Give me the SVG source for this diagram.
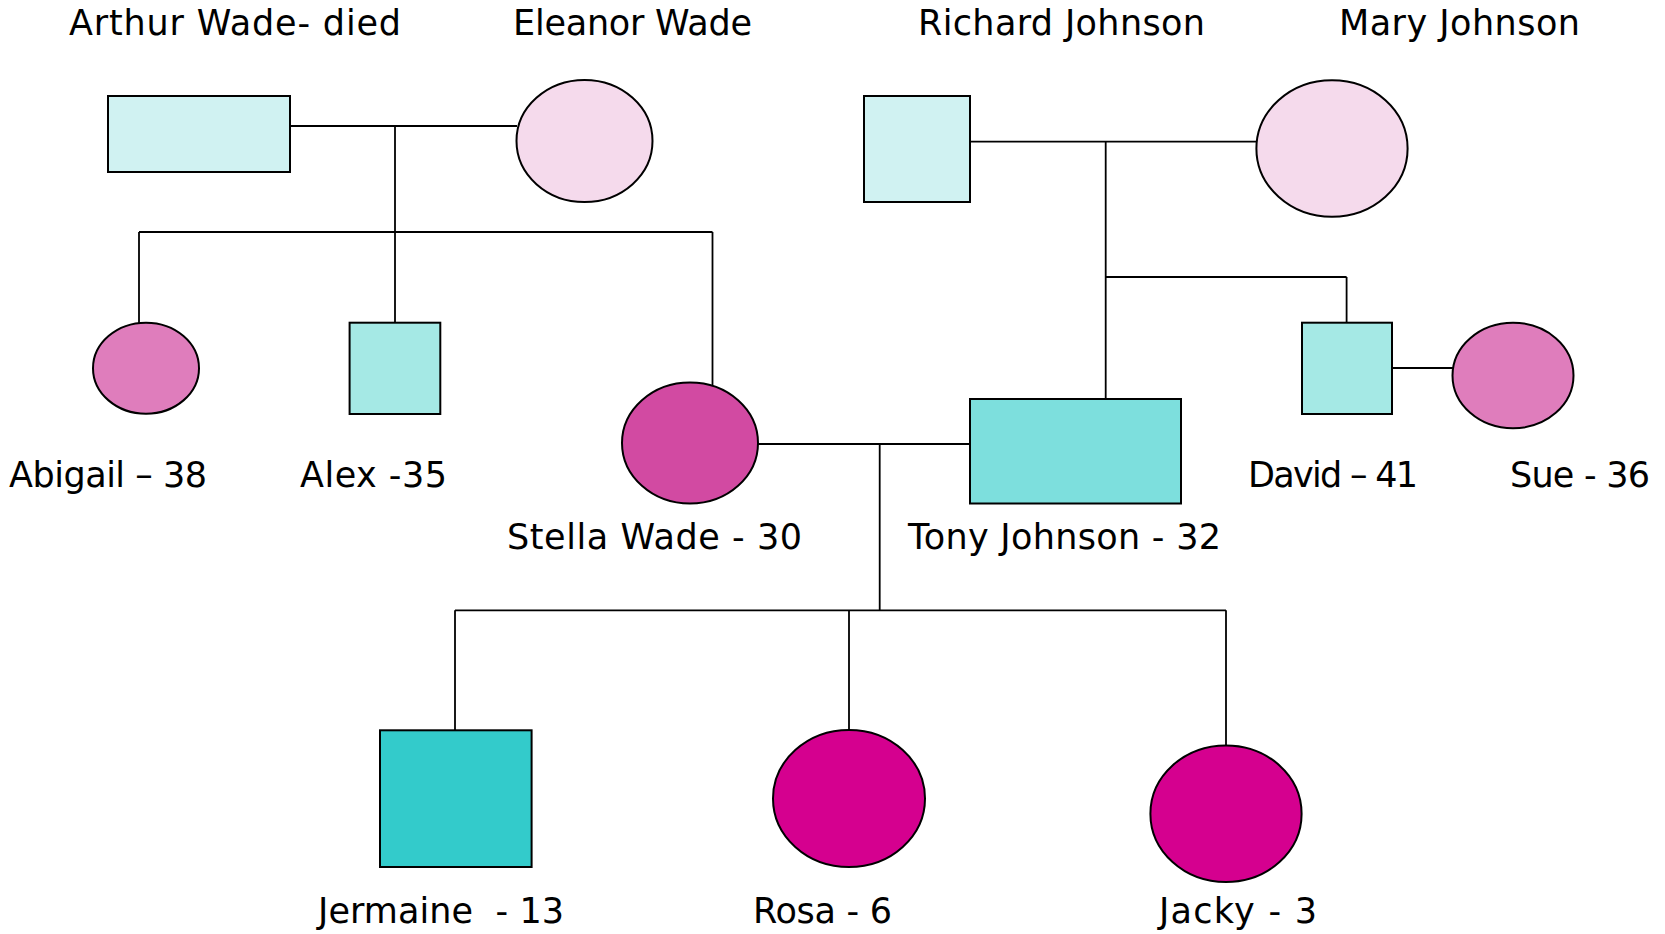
<svg xmlns="http://www.w3.org/2000/svg" width="1665" height="934" viewBox="0 0 1665 934">
<style>
  .lbl { font-family: "DejaVu Sans", "Liberation Sans", sans-serif; font-size: 35px; fill: #000; }
  .shape { stroke: #000; stroke-width: 2; }
  .conn line { stroke: #000; stroke-width: 1.8; }
</style>
<rect width="1665" height="934" fill="#ffffff"/>
<g id="connectors" class="conn">
  <line x1="290" y1="126" x2="517" y2="126"/>
  <line x1="395" y1="126" x2="395" y2="232"/>
  <line x1="139" y1="232" x2="712.5" y2="232"/>
  <line x1="139" y1="232" x2="139" y2="324"/>
  <line x1="395" y1="232" x2="395" y2="323"/>
  <line x1="712.5" y1="232" x2="712.5" y2="385"/>
  <line x1="970" y1="141.7" x2="1257" y2="141.7"/>
  <line x1="1105.7" y1="141.7" x2="1105.7" y2="399"/>
  <line x1="1105.7" y1="277" x2="1346.6" y2="277"/>
  <line x1="1346.6" y1="277" x2="1346.6" y2="323"/>
  <line x1="1392" y1="368" x2="1453" y2="368"/>
  <line x1="758" y1="444" x2="970" y2="444"/>
  <line x1="879.7" y1="444" x2="879.7" y2="610.3"/>
  <line x1="455" y1="610.3" x2="1226" y2="610.3"/>
  <line x1="455" y1="610.3" x2="455" y2="731"/>
  <line x1="849" y1="610.3" x2="849" y2="731"/>
  <line x1="1226" y1="610.3" x2="1226" y2="746"/>
</g>
<g id="arthur">
  <rect class="shape" x="108" y="96" width="182" height="76" fill="#D0F2F2"/>
  <text class="lbl" x="69" y="35" textLength="332">Arthur Wade- died</text>
</g>
<g id="eleanor">
  <ellipse class="shape" cx="584.5" cy="141" rx="68" ry="61" fill="#F5DAEC"/>
  <text class="lbl" x="513" y="35" textLength="239">Eleanor Wade</text>
</g>
<g id="richard">
  <rect class="shape" x="864" y="96" width="106" height="106" fill="#D0F2F2"/>
  <text class="lbl" x="918" y="35" textLength="287">Richard Johnson</text>
</g>
<g id="mary">
  <ellipse class="shape" cx="1332" cy="148.5" rx="75.6" ry="68.2" fill="#F5DAEC"/>
  <text class="lbl" x="1339" y="35" textLength="241">Mary Johnson</text>
</g>
<g id="abigail">
  <ellipse class="shape" cx="146" cy="368.2" rx="53" ry="45.5" fill="#DF7DBC"/>
  <text class="lbl" x="9" y="487" textLength="198">Abigail – 38</text>
</g>
<g id="alex">
  <rect class="shape" x="349.6" y="322.7" width="90.7" height="91.3" fill="#A5E9E5"/>
  <text class="lbl" x="300" y="487" textLength="147">Alex -35</text>
</g>
<g id="stella">
  <ellipse class="shape" cx="690" cy="443" rx="68" ry="60.5" fill="#D24AA2"/>
  <text class="lbl" x="507" y="549" textLength="295">Stella Wade - 30</text>
</g>
<g id="tony">
  <rect class="shape" x="970" y="399" width="211" height="104.5" fill="#7DDFDD"/>
  <text class="lbl" x="908" y="549" textLength="313">Tony Johnson - 32</text>
</g>
<g id="david">
  <rect class="shape" x="1302" y="322.7" width="90" height="91.3" fill="#A5E9E5"/>
  <text class="lbl" x="1248" y="487" textLength="170">David – 41</text>
</g>
<g id="sue">
  <ellipse class="shape" cx="1513" cy="375.5" rx="60.5" ry="52.8" fill="#DF7DBC"/>
  <text class="lbl" x="1510" y="487" textLength="140">Sue - 36</text>
</g>
<g id="jermaine">
  <rect class="shape" x="380" y="730.3" width="151.6" height="136.7" fill="#33CBCB"/>
  <text class="lbl" x="318" y="923" textLength="246" xml:space="preserve">Jermaine  - 13</text>
</g>
<g id="rosa">
  <ellipse class="shape" cx="849" cy="798.5" rx="76" ry="68.5" fill="#D5008F"/>
  <text class="lbl" x="753" y="923" textLength="139">Rosa - 6</text>
</g>
<g id="jacky">
  <ellipse class="shape" cx="1226" cy="813.7" rx="75.6" ry="68.3" fill="#D5008F"/>
  <text class="lbl" x="1159" y="923" textLength="158">Jacky - 3</text>
</g>
</svg>
